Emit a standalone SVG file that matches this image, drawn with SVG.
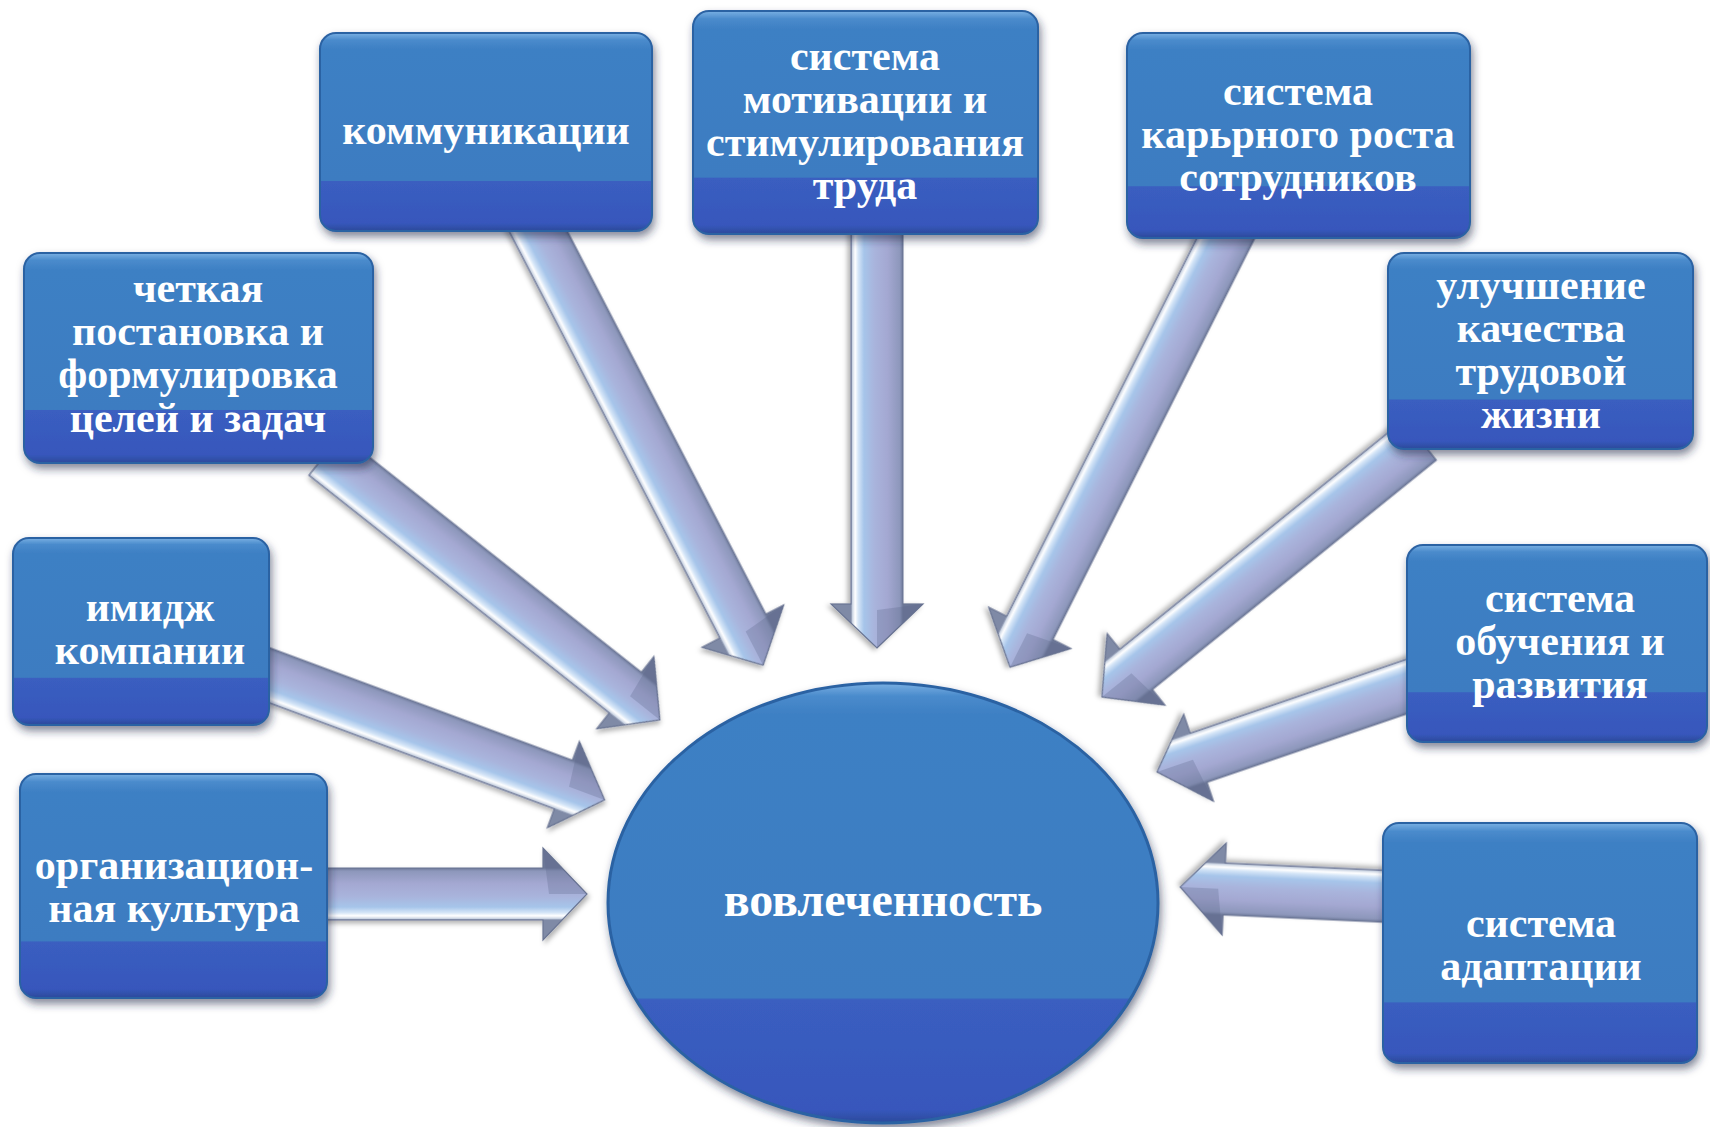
<svg xmlns="http://www.w3.org/2000/svg" width="1710" height="1127" viewBox="0 0 1710 1127">
<defs>
<style>
.t{font-family:"Liberation Serif","Times New Roman",serif;font-weight:bold;font-size:42px;fill:#ffffff;text-anchor:middle}
.big{font-size:48px}
.box{fill:url(#boxg);stroke:#2c62a3;stroke-width:2;filter:url(#bsh)}
.arr{fill:url(#arrg);stroke:#6a7593;stroke-width:1.2;filter:url(#ash)}
.bev{fill:#59638a;fill-opacity:0.28}
</style>
<linearGradient id="boxg" x1="0" y1="0" x2="0" y2="1">
<stop offset="0" stop-color="#7ab0e3"/>
<stop offset="0.035" stop-color="#4a8bcc"/>
<stop offset="0.08" stop-color="#3e80c4"/>
<stop offset="0.745" stop-color="#3c7cc1"/>
<stop offset="0.75" stop-color="#3a5ec0"/>
<stop offset="0.96" stop-color="#3757bc"/>
<stop offset="1" stop-color="#2b4a9a"/>
</linearGradient>
<linearGradient id="ellg" x1="0" y1="0" x2="0" y2="1">
<stop offset="0" stop-color="#7ab0e3"/>
<stop offset="0.03" stop-color="#4a8bcc"/>
<stop offset="0.07" stop-color="#3e80c4"/>
<stop offset="0.715" stop-color="#3c7cc1"/>
<stop offset="0.72" stop-color="#3a5ec0"/>
<stop offset="0.97" stop-color="#3757bc"/>
<stop offset="1" stop-color="#2b4a9a"/>
</linearGradient>
<linearGradient id="arrg" gradientUnits="userSpaceOnUse" x1="0" y1="-26" x2="0" y2="26">
<stop offset="0" stop-color="#6c7797"/>
<stop offset="0.06" stop-color="#8d97bb"/>
<stop offset="0.3" stop-color="#a4a8d2"/>
<stop offset="0.55" stop-color="#a9b4dc"/>
<stop offset="0.75" stop-color="#a6c5ea"/>
<stop offset="0.86" stop-color="#d5e5f7"/>
<stop offset="0.92" stop-color="#ffffff"/>
<stop offset="0.97" stop-color="#cfd8e6"/>
<stop offset="1" stop-color="#7f8aa6"/>
</linearGradient>
<filter id="bsh" x="-10%" y="-10%" width="120%" height="125%">
<feDropShadow dx="2" dy="5" stdDeviation="4" flood-color="#1a2b4a" flood-opacity="0.55"/>
</filter>
<filter id="ash" x="-10%" y="-30%" width="120%" height="160%">
<feDropShadow dx="2" dy="3" stdDeviation="2.5" flood-color="#000000" flood-opacity="0.3"/>
</filter>
</defs>
<rect width="1710" height="1127" fill="#ffffff"/>

<g id="connectors">
<g transform="translate(522,200) rotate(62.6)"><path class="arr" d="M0,-26 H480 V-46 L524,0 L480,46 V26 H0 Z"/><path class="bev" d="M480,-46 L524,0 L486,0 Z"/></g>
<g transform="translate(877,200) rotate(90)"><path class="arr" d="M0,-26 H404 V-46 L448,0 L404,46 V26 H0 Z"/><path class="bev" d="M404,-46 L448,0 L410,0 Z"/></g>
<g transform="translate(1245,200) rotate(116.7)"><path class="arr" d="M0,-26 H479 V-46 L523,0 L479,46 V26 H0 Z"/><path class="bev" d="M479,-46 L523,0 L485,0 Z"/></g>
<g transform="translate(325,455) rotate(38.35)"><path class="arr" d="M0,-26 H383 V-46 L427,0 L383,46 V26 H0 Z"/><path class="bev" d="M383,-46 L427,0 L389,0 Z"/></g>
<g transform="translate(255,670) rotate(20.38)"><path class="arr" d="M0,-26 H329 V-46 L373,0 L329,46 V26 H0 Z"/><path class="bev" d="M329,-46 L373,0 L335,0 Z"/></g>
<g transform="translate(300,894) rotate(0)"><path class="arr" d="M0,-26 H243 V-46 L287,0 L243,46 V26 H0 Z"/><path class="bev" d="M243,-46 L287,0 L249,0 Z"/></g>
<g transform="translate(1420,440) rotate(141.06)"><path class="arr" d="M0,-26 H365 V-46 L409,0 L365,46 V26 H0 Z"/><path class="bev" d="M365,-46 L409,0 L371,0 Z"/></g>
<g transform="translate(1420,682) rotate(161.11)"><path class="arr" d="M0,-26 H234 V-46 L278,0 L234,46 V26 H0 Z"/><path class="bev" d="M234,-46 L278,0 L240,0 Z"/></g>
<g transform="translate(1400,897) rotate(182.6)"><path class="arr" d="M0,-26 H176 V-46 L220,0 L176,46 V26 H0 Z"/><path class="bev" d="M176,-46 L220,0 L182,0 Z"/></g>
</g>

<g id="node-kommunikacii">
<rect class="box" x="320" y="33" width="332" height="198" rx="16"/>
<text class="t" x="486" y="144">коммуникации</text>
</g>
<g id="node-motivacii">
<rect class="box" x="693" y="11" width="345" height="223" rx="16"/>
<text class="t" x="865" y="70">система</text>
<text class="t" x="865" y="113">мотивации и</text>
<text class="t" x="865" y="156">стимулирования</text>
<text class="t" x="865" y="199">труда</text>
</g>
<g id="node-kariernogo">
<rect class="box" x="1127" y="33" width="343" height="205" rx="16"/>
<text class="t" x="1298" y="105">система</text>
<text class="t" x="1298" y="148">карьрного роста</text>
<text class="t" x="1298" y="191">сотрудников</text>
</g>
<g id="node-celi">
<rect class="box" x="24" y="253" width="349" height="210" rx="16"/>
<text class="t" x="198" y="302">четкая</text>
<text class="t" x="198" y="345">постановка и</text>
<text class="t" x="198" y="388">формулировка</text>
<text class="t" x="198" y="432">целей и задач</text>
</g>
<g id="node-kachestvo">
<rect class="box" x="1388" y="253" width="305" height="196" rx="16"/>
<text class="t" x="1541" y="299">улучшение</text>
<text class="t" x="1541" y="342">качества</text>
<text class="t" x="1541" y="385">трудовой</text>
<text class="t" x="1541" y="428">жизни</text>
</g>
<g id="node-imidzh">
<rect class="box" x="13" y="538" width="256" height="187" rx="16"/>
<text class="t" x="150" y="621">имидж</text>
<text class="t" x="150" y="664">компании</text>
</g>
<g id="node-obuchenie">
<rect class="box" x="1407" y="545" width="300" height="197" rx="16"/>
<text class="t" x="1560" y="612">система</text>
<text class="t" x="1560" y="655">обучения и</text>
<text class="t" x="1560" y="698">развития</text>
</g>
<g id="node-kultura">
<rect class="box" x="20" y="774" width="307" height="224" rx="16"/>
<text class="t" x="174" y="879">организацион-</text>
<text class="t" x="174" y="922">ная культура</text>
</g>
<g id="node-adaptaciya">
<rect class="box" x="1383" y="823" width="314" height="240" rx="16"/>
<text class="t" x="1541" y="937">система</text>
<text class="t" x="1541" y="980">адаптации</text>
</g>
<g id="node-vovlechennost">
<ellipse cx="883" cy="903" rx="275" ry="220" fill="url(#ellg)" stroke="#2c62a3" stroke-width="3" filter="url(#bsh)"/>
<text class="t big" x="883" y="916">вовлеченность</text>
</g>
</svg>
